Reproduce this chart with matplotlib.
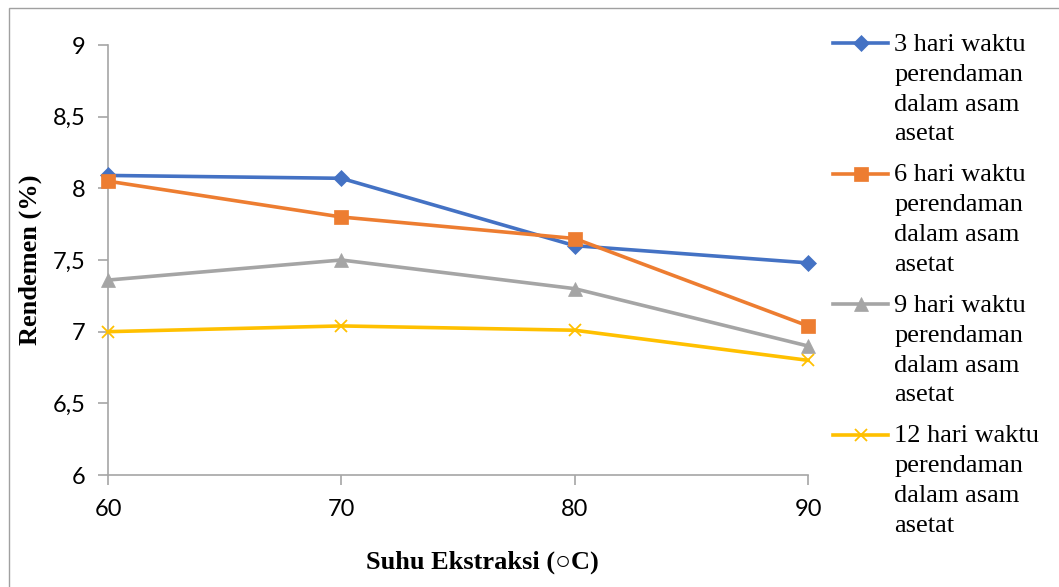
import matplotlib
matplotlib.use('Agg')
import matplotlib.pyplot as plt
from matplotlib.patches import Rectangle
from matplotlib.ticker import FuncFormatter

suhu = [60, 70, 80, 90]
hari_3 = [8.09, 8.07, 7.60, 7.48]
hari_6 = [8.05, 7.80, 7.65, 7.04]
hari_9 = [7.36, 7.50, 7.30, 6.90]
hari_12 = [7.00, 7.04, 7.01, 6.80]
label_seri = ['3 hari waktu\nperendaman\ndalam asam\nasetat',
              '6 hari waktu\nperendaman\ndalam asam\nasetat',
              '9 hari waktu\nperendaman\ndalam asam\nasetat',
              '12 hari waktu\nperendaman\ndalam asam\nasetat']
y_ticks = [6, 6.5, 7, 7.5, 8, 8.5, 9]

serif = ['Liberation Serif', 'DejaVu Serif']
abu = '#a6a6a6'

fig = plt.figure(figsize=(10.59, 5.87), dpi=100)
ax = fig.add_axes([108 / 1059, 1 - 475 / 587, 700 / 1059, 430 / 587])

# bingkai luar grafik
fig.patches.append(Rectangle((9 / 1059, -0.1), 1.2, 1.1 - 8 / 587,
                             transform=fig.transFigure, fill=False,
                             edgecolor='#a0a0a0', linewidth=1))

gaya = [
    (hari_3, '#4472c4', 'D', 8),
    (hari_6, '#ed7d31', 's', 9.5),
    (hari_9, '#a5a5a5', '^', 9.5),
    (hari_12, '#ffc000', 'x', 9),
]
for (nilai, warna, mk, ms), lab in zip(gaya, label_seri):
    ax.plot(suhu, nilai, color=warna, linewidth=2.6, marker=mk,
            markersize=ms, markeredgewidth=1.3 if mk == 'x' else 0.5,
            markeredgecolor=warna, label=lab, clip_on=False, zorder=3)

ax.set_xlim(60, 90)
ax.set_ylim(6, 9)
ax.set_xticks(suhu)
ax.set_yticks(y_ticks)
ax.yaxis.set_major_formatter(FuncFormatter(lambda v, p: ('%g' % v).replace('.', ',')))

for s in ['top', 'right']:
    ax.spines[s].set_visible(False)
for s in ['left', 'bottom']:
    ax.spines[s].set_color(abu)
    ax.spines[s].set_linewidth(1.2)
ax.tick_params(axis='both', color=abu, length=7, width=1.2,
               labelsize=17, labelfontfamily='Lato')
ax.tick_params(axis='y', pad=9)
ax.tick_params(axis='x', pad=10)

fig.text(30 / 1059, 1 - 260 / 587, 'Rendemen (%)', rotation=90,
         ha='center', va='center', family=serif, fontweight='bold', fontsize=19)
fig.text(482 / 1059, 1 - 562 / 587, 'Suhu Ekstraksi (\u25cbC)',
         ha='center', va='center', family=serif, fontweight='bold', fontsize=19)

leg = fig.legend(loc='upper left', bbox_to_anchor=(833 / 1059, 1 - 34 / 587),
                 frameon=False, borderpad=0, borderaxespad=0,
                 handlelength=2.1, handletextpad=0.22, labelspacing=0.72,
                 prop={'family': serif, 'size': 19})
for t in leg.get_texts():
    t.set_linespacing(1.46)
# penanda legenda sejajar dengan baris pertama teks
for kol in leg._legend_handle_box.get_children():
    for baris in kol.get_children():
        baris.align = 'top'

fig.savefig('out.png', dpi=100)
